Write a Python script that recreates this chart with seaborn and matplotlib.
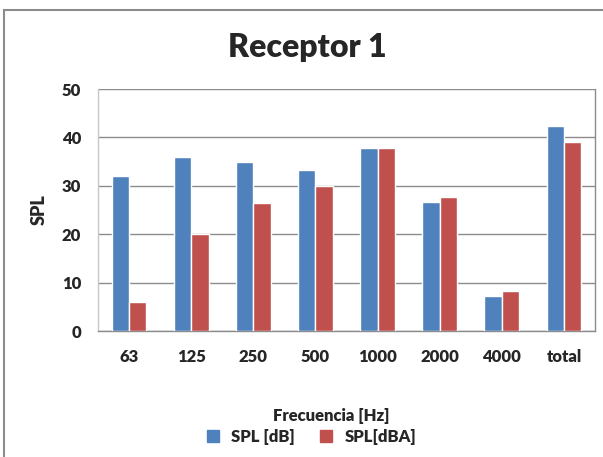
import pandas as pd
import numpy as np
import seaborn as sns
import matplotlib.pyplot as plt
from matplotlib.patches import Rectangle
from matplotlib.lines import Line2D

categories = ["63", "125", "250", "500", "1000", "2000", "4000", "total"]
spl_db = [32.1, 35.9, 34.9, 33.3, 37.8, 26.6, 7.2, 42.4]
spl_dba = [6.0, 20.0, 26.4, 30.0, 37.8, 27.7, 8.3, 39.1]
series = ["SPL [dB]", "SPL[dBA]"]
colors = ["#4F81BD", "#C0504D"]

df = pd.DataFrame({
    "freq": categories * 2,
    "value": spl_db + spl_dba,
    "serie": [series[0]] * len(categories) + [series[1]] * len(categories),
})

sns.set_style("white")
plt.rcParams["font.family"] = ["Lato", "DejaVu Sans"]

fig = plt.figure(figsize=(6.03, 4.57), dpi=100)
ax = fig.add_axes([98 / 603, 1 - 331 / 457, 497 / 603, 242 / 457])

sns.barplot(data=df, x="freq", y="value", hue="serie", order=categories,
            hue_order=series, palette=colors, width=0.56, gap=0,
            saturation=1, ax=ax, legend=False, zorder=3)

ax.set_ylim(0, 50)
ax.set_yticks(range(0, 51, 10))
ax.yaxis.grid(True, color="#8c8c8c", linewidth=1, zorder=0)
ax.set_axisbelow(True)
for s in ["left", "bottom", "right"]:
    ax.spines[s].set_color("#8c8c8c")
    ax.spines[s].set_linewidth(1)
ax.spines["left"].set_color("#c8c8c8")
ax.spines["top"].set_visible(False)
ax.tick_params(axis="x", length=0, pad=13, labelsize=12)
ax.tick_params(axis="y", length=0, pad=12, labelsize=12)
for lab in ax.get_xticklabels() + ax.get_yticklabels():
    lab.set_fontweight("heavy")

ax.set_ylabel("SPL", fontsize=13, fontweight="heavy", labelpad=10)
ax.set_xlabel("Frecuencia [Hz]", fontsize=12, fontweight="heavy")
ax.xaxis.set_label_coords(0.47, -0.32)

fig.text(0.51, 1 - 47 / 457, "Receptor 1", ha="center", va="center",
         fontsize=23, fontweight="heavy")

handles = [Line2D([], [], marker="s", linestyle="none", markersize=8,
                  markerfacecolor=c, markeredgecolor=c) for c in colors]
fig.legend(handles, series, loc="center", bbox_to_anchor=(0.508, 1 - 437 / 457),
           ncol=2, frameon=False, handletextpad=0.1, columnspacing=0.9,
           prop={"weight": "heavy", "size": 12})

fig.patches.append(Rectangle((4 / 603, -0.1), 1.2, 1 - 10 / 457 + 0.1,
                             transform=fig.transFigure, fill=False,
                             edgecolor="#8c8c8c", linewidth=1.5))

fig.savefig("out.png", dpi=100)
